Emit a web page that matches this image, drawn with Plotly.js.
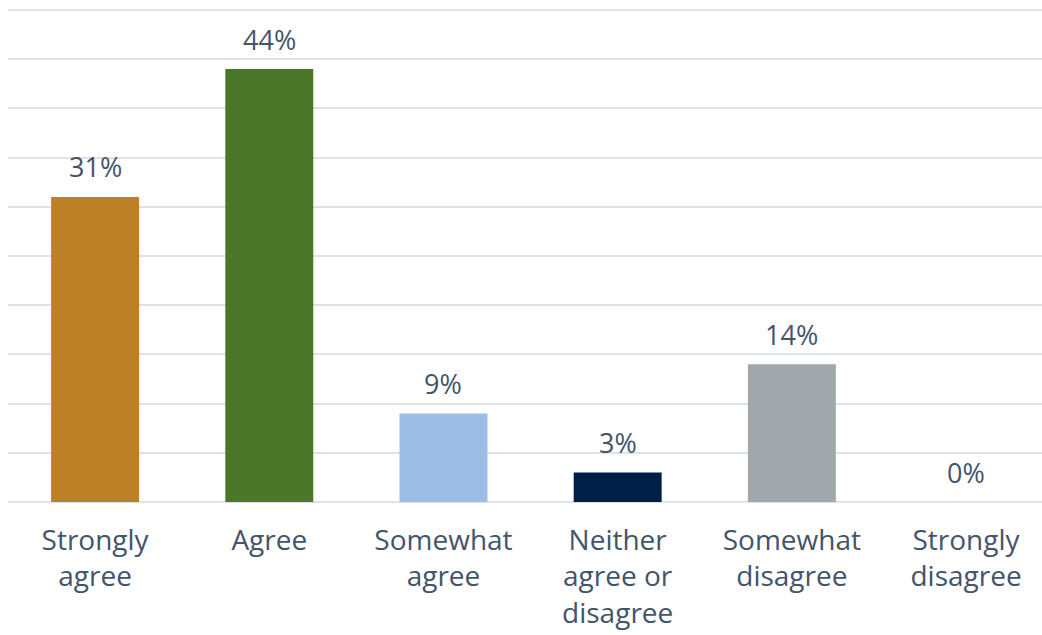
<!DOCTYPE html>
<html><head><meta charset="utf-8">
<script src="https://cdn.plot.ly/plotly-3.0.1.min.js"></script>
<style>html,body{margin:0;padding:0;background:#fff}#c{width:1042px;height:635px}</style>
</head><body><div id="c"></div>
<script>
const categories = ["Strongly<br>agree","Agree","Somewhat<br>agree","Neither<br>agree or<br>disagree","Somewhat<br>disagree","Strongly<br>disagree"];
const values = [31, 44, 9, 3, 14, 0];
const labels = ["31%","44%","9%","3%","14%","0%"];
const colors = ["#BE8026","#4B772A","#9BBDE6","#001F47","#A1A8AC","#A1A8AC"];

const annotations = categories.map((c, i) => ({
  x: i, y: values[i], xref: "x", yref: "y",
  text: labels[i], showarrow: false,
  yanchor: "middle", yshift: 30,
  font: {family: "Open Sans, sans-serif", size: 27, color: "#44546A"}
}));

Plotly.newPlot("c", [{
  type: "bar",
  x: categories.map((c, i) => i),
  y: values,
  width: 0.505,
  marker: {color: colors},
  cliponaxis: false,
  hoverinfo: "none"
}], {
  width: 1042, height: 635,
  margin: {l: 8, r: 0, t: 5, b: 133, pad: 0},
  paper_bgcolor: "#fff", plot_bgcolor: "#fff",
  showlegend: false,
  font: {family: "Open Sans, sans-serif", color: "#44546A"},
  annotations: annotations,
  xaxis: {
    range: [-0.5, 5.436],
    tickmode: "array",
    tickvals: categories.map((c, i) => i),
    ticktext: categories,
    showgrid: false, zeroline: false, showline: false, ticks: "",
    tickfont: {size: 28, color: "#44546A"},
    ticklabelstandoff: 19
  },
  yaxis: {
    range: [0, 50.51], dtick: 5, showticklabels: false,
    gridcolor: "#DFE3E8", gridwidth: 2,
    zeroline: true, zerolinecolor: "#DFE3E8", zerolinewidth: 2,
    showline: false
  }
}, {displayModeBar: false, staticPlot: true});
</script></body></html>
